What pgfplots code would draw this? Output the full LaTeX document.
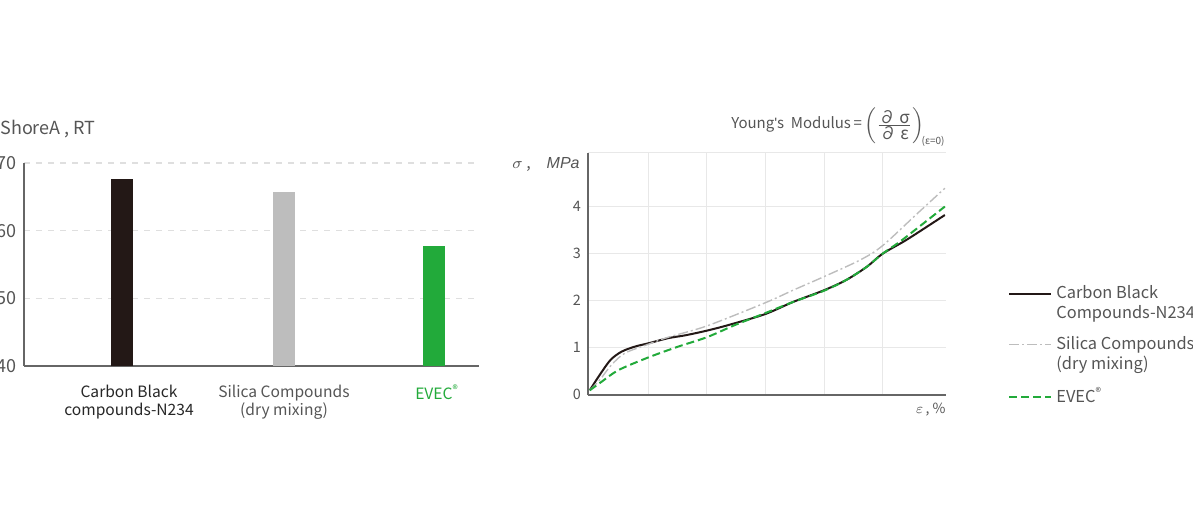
\documentclass[border=0pt]{standalone}
\usepackage{pgfplots}
\pgfplotsset{compat=1.18}
\usepackage{fontspec}
\setmainfont{Noto Sans CJK SC}
\newfontfamily\arial{Liberation Sans}
\definecolor{cbk}{HTML}{231816}
\definecolor{sil}{HTML}{BDBDBD}
\definecolor{evec}{HTML}{22AA3A}
\definecolor{txt}{HTML}{555555}
\definecolor{axl}{HTML}{666666}
\pgfplotsset{
  raisedlegend/.style={legend image code/.code={\draw[##1] (0pt,5pt) -- (21pt,5pt);}},
}
\begin{document}
\begin{tikzpicture}
\path[use as bounding box] (0,0) rectangle (596.5pt,257pt);
% ---------- left: hardness ----------
\begin{axis}[
  at={(12pt,74pt)}, anchor=south west, scale only axis,
  width=227.5pt, height=101.5pt,
  xmin=24, xmax=479, ymin=40, ymax=70,
  axis lines=left, axis line style={axl, line width=0.8pt, -},
  ytick={40,50,60,70}, ymajorgrids,
  major grid style={dashed, gray!25, line width=0.6pt},
  xtick={129,284,437},
  xticklabels={{Carbon Black\\compounds-N234},
               {\textcolor{txt}{Silica Compounds}\\\textcolor{txt}{(dry mixing)}},
               {\textcolor{evec}{EVEC\textsuperscript{®}}}},
  major tick length=0pt,
  /pgf/number format/assume math mode=true,
  yticklabel style={font=\fontsize{9}{11}\selectfont, text=txt},
  xticklabel style={font=\fontsize{7.8}{9}\selectfont, text=black!85, align=center, yshift=-6pt},
]
\addplot[ybar, bar shift=0pt, bar width=11pt, fill=cbk, draw=none] coordinates {(122,67.7)};
\addplot[ybar, bar shift=0pt, bar width=11pt, fill=sil, draw=none] coordinates {(284,65.7)};
\addplot[ybar, bar shift=0pt, bar width=11pt, fill=evec, draw=none] coordinates {(434,57.8)};
\end{axis}
\node[anchor=base west, text=txt, font=\fontsize{9}{11}\selectfont, inner sep=0pt] at (0pt,189.5pt) {ShoreA , RT};
% ---------- right: stress-strain ----------
\begin{axis}[
  at={(294pt,59.5pt)}, anchor=south west, scale only axis,
  width=179pt, height=121pt,
  xmin=0, xmax=6.11, ymin=-0.02, ymax=5.13,
  axis lines=left, axis line style={axl, line width=1pt, -},
  xtick={1.03,2.03,3.03,4.03,5.02}, xticklabels={},
  ytick={0,1,2,3,4},
  extra y ticks={5.13}, extra y tick labels={},
  grid=major, major grid style={gray!18, line width=0.5pt},
  major tick length=0pt,
  /pgf/number format/assume math mode=true,
  yticklabel style={font=\fontsize{7.2}{9}\selectfont, text=txt},
  legend style={at={(1.173,0.47)}, anchor=north west, draw=none, fill=none,
    inner sep=0pt, font=\fontsize{8.2}{10}\selectfont, text=txt,
    cells={anchor=west, align=left}, row sep=3.5pt},
  legend image code/.code={\draw[#1] (0pt,0pt) -- (21pt,0pt);},
]
\addplot[cbk, line width=1pt, smooth, raisedlegend] coordinates {
(0.03,0.08) (0.18,0.37) (0.38,0.72) (0.57,0.90) (0.80,1.01) (1.03,1.08)
(1.37,1.19) (1.66,1.25) (2.03,1.35) (2.40,1.47) (3.02,1.70) (3.50,1.96)
(4.03,2.21) (4.41,2.43) (4.76,2.71) (5.02,2.98) (5.38,3.24) (5.61,3.42) (6.09,3.81)};
\addlegendentry{Carbon Black\\Compounds-N234}
\addplot[sil, line width=0.7pt, smooth, dash pattern=on 5pt off 1.5pt on 1pt off 1.5pt, raisedlegend] coordinates {
(0.03,0.08) (0.2,0.30) (0.40,0.62) (0.63,0.87) (1.03,1.06) (1.37,1.21)
(2.03,1.45) (3.02,1.94) (3.50,2.21) (4.03,2.50) (4.64,2.85) (5.02,3.15)
(5.61,3.83) (6.09,4.38)};
\addlegendentry{Silica Compounds\\(dry mixing)}
\addplot[evec, line width=1pt, smooth, dash pattern=on 4pt off 2pt] coordinates {
(0.03,0.08) (0.23,0.26) (0.52,0.51) (1.03,0.78) (1.54,1.01) (2.03,1.21)
(2.51,1.47) (3.02,1.72) (3.50,1.96) (4.03,2.20) (4.41,2.43) (4.76,2.71)
(5.02,2.98) (5.32,3.24) (5.61,3.52) (6.09,3.99)};
\addlegendentry{EVEC\textsuperscript{®}}
\end{axis}
\node[anchor=east, text=txt, inner sep=0pt, font=\fontsize{8}{9}\selectfont] at (290pt,174.5pt) {$\sigma$\ ,\quad{\arial\itshape MPa}};
\node[anchor=east, text=txt, inner sep=0pt, font=\fontsize{7}{8}\selectfont] at (473pt,52pt) {$\varepsilon$\,, \%};
\node[anchor=east, text=txt, inner sep=0pt, font=\fontsize{7.5}{9}\selectfont] at (473pt,194pt)
  {Young{\arial'}s\ \ Modulus\,=\,$\Bigl(\frac{\mbox{\fontsize{8.5}{10}\selectfont∂ σ}}{\mbox{\fontsize{8.5}{10}\selectfont∂ ε}}\Bigr)_{\!\mbox{\fontsize{5}{6}\selectfont(ε=0)}}$};
\end{tikzpicture}
\end{document}
